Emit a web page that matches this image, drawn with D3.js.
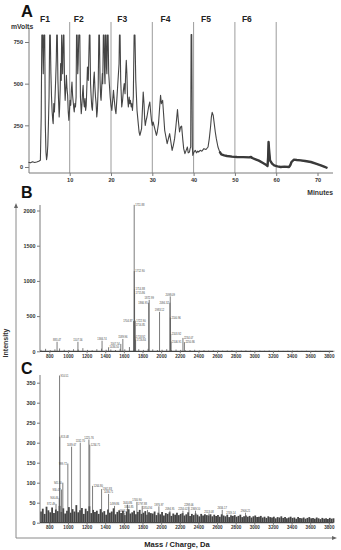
<!DOCTYPE html>
<html>
<head>
<meta charset="utf-8">
<script src="https://cdn.jsdelivr.net/npm/d3@7"></script>
<style>
  body { margin: 0; background: #fff; }
  svg { display: block; font-family: "Liberation Sans", Arial, sans-serif; }
</style>
</head>
<body>
<svg id="chart" width="341" height="550"></svg>
<script>
// ---- panel A : chromatogram (minutes, mVolts) ----
const chromTime = [0, 0.5, 1, 1.5, 2, 2.5, 2.9, 3.1, 3.25, 3.45,
  3.6, 3.75, 3.95, 4.1, 4.25, 4.4, 4.55, 4.7, 4.85, 5.0,
  5.15, 5.3, 5.45, 5.6, 5.75, 5.9, 6.0, 6.15, 6.3, 6.45,
  6.6, 6.75, 6.85, 7.0, 7.15, 7.3, 7.45, 7.55, 7.7, 7.8,
  7.95, 8.05, 8.2, 8.3, 8.45, 8.6, 8.75, 8.9, 9.05, 9.2,
  9.35, 9.5, 9.65, 9.8, 9.95, 10.1, 10.25, 10.4, 10.55, 10.7,
  10.85, 11.0, 11.1, 11.25, 11.4, 11.55, 11.65, 11.8, 11.95, 12.05,
  12.2, 12.45, 12.6, 12.8, 12.95, 13.1, 13.25, 13.4, 13.55, 13.7,
  13.85, 14.0, 14.15, 14.3, 14.5, 14.75, 14.9, 15.05, 15.2, 15.35,
  15.5, 15.65, 15.8, 15.95, 16.1, 16.25, 16.4, 16.55, 16.7, 16.9,
  17.05, 17.2, 17.35, 17.5, 17.6, 17.75, 17.9, 18.0, 18.15, 18.3,
  18.45, 18.55, 18.65, 18.8, 18.9, 19.0, 19.15, 19.3, 19.45, 19.6,
  19.8, 20.0, 20.2, 20.4, 20.6, 20.8, 21.0, 21.2, 21.4, 21.6,
  21.8, 21.95, 22.05, 22.2, 22.35, 22.6, 22.8, 23.0, 23.2, 23.4,
  23.55, 23.7, 23.85, 24.0, 24.2, 24.4, 24.55, 24.7, 24.9, 25.05,
  25.2, 25.4, 25.6, 25.8, 26.0, 26.3, 26.6, 26.8, 27.0, 27.2,
  27.4, 27.6, 27.8, 28.0, 28.15, 28.3, 28.5, 28.7, 28.9, 29.1,
  29.4, 29.6, 29.8, 30.0, 30.2, 30.5, 30.7, 31.0, 31.2, 31.5,
  31.7, 32.0, 32.2, 32.5, 32.7, 33.0, 33.3, 33.6, 33.9, 34.2,
  34.5, 34.8, 35.1, 35.4, 35.7, 36.1, 36.3, 36.6, 36.85, 37.1,
  37.4, 37.6, 37.9, 38.2, 38.5, 38.7, 39.0, 39.15, 39.3, 39.4,
  39.55, 39.7, 39.8, 40.1, 40.4, 40.7, 41.0, 41.2, 41.6, 42.0,
  42.5, 43.0, 43.5, 43.8, 44.1, 44.3, 44.5, 44.75, 45.0, 45.25,
  45.5, 45.9, 46.3, 46.7, 47.4, 48.1, 49.3, 50.5, 52.0, 53.4,
  53.9, 54.2, 55.0, 55.8, 56.8, 57.5, 57.9, 58.05, 58.15, 58.25,
  58.5, 59.0, 59.5, 60.3, 61.1, 62.0, 63.1, 63.4, 63.7, 64.3,
  65.0, 65.9, 67.0, 68.4, 69.6, 70.8, 71.6, 72.4];
const chromMv = [28, 25, 31, 27, 30, 34, 40, 300, 792, 792,
  560, 792, 792, 250, 90, 44, 70, 130, 260, 420,
  792, 792, 560, 420, 330, 280, 260, 380, 330, 420,
  520, 640, 792, 792, 520, 400, 300, 350, 470, 620,
  520, 792, 660, 560, 792, 792, 500, 400, 470, 550,
  470, 430, 330, 280, 340, 400, 370, 460, 510, 430,
  390, 350, 330, 380, 360, 420, 792, 792, 560, 620,
  792, 792, 420, 320, 370, 440, 490, 390, 360, 410,
  340, 370, 480, 600, 520, 792, 792, 500, 420, 360,
  340, 420, 520, 570, 480, 420, 380, 300, 340, 480,
  792, 792, 520, 420, 400, 480, 560, 500, 792, 792,
  560, 500, 792, 792, 600, 560, 792, 792, 560, 500,
  420, 370, 340, 400, 460, 400, 350, 320, 400, 480,
  560, 620, 792, 792, 520, 360, 400, 460, 500, 440,
  560, 640, 560, 420, 360, 420, 380, 400, 360, 380,
  340, 420, 792, 792, 520, 340, 260, 210, 190, 210,
  230, 340, 450, 380, 290, 250, 280, 300, 330, 360,
  390, 330, 280, 250, 270, 240, 220, 190, 210, 260,
  330, 430, 380, 400, 330, 220, 180, 140, 170, 200,
  150, 100, 130, 170, 240, 345, 280, 210, 240, 245,
  160, 110, 80, 100, 120, 85, 90, 110, 120, 795,
  795, 120, 70, 90, 100, 85, 95, 90, 100, 95,
  110, 105, 120, 170, 240, 300, 328, 310, 260, 210,
  170, 120, 92, 76, 70, 66, 62, 60, 59, 58,
  60, 54, 46, 38, 24, 14, 6, 60, 150, 110,
  40, 20, 10, 4, 0, 2, 0, 10, 30, 44,
  42, 40, 36, 30, 20, 10, 2, -6];
const fractionCuts = [10, 20, 30, 40, 50, 60];
const fractionNames = ["F1", "F2", "F3", "F4", "F5", "F6"];
const fractionLabelAt = [4, 12.2, 22.7, 33.2, 43, 52.9];
const minuteTicks = [10, 20, 30, 40, 50, 60, 70];
const mvTicks = [0, 250, 500, 750];

// ---- panels B and C : mass spectra ----
const massTicks = [800, 1000, 1200, 1400, 1600, 1800, 2000, 2200, 2400, 2600, 2800, 3000, 3200, 3400, 3600, 3800];
const intTicksB = [0, 500, 1000, 1500, 2000];
const intTicksC = [0, 50, 100, 150, 200, 250, 300, 350];

const peakMassB = [883, 1107, 1366, 1436, 1567, 1589, 1711, 1712, 1714, 1715, 1704, 1722, 1716, 1718, 1726,
  1872, 1866, 1983, 2098, 2094, 2100, 2103, 2106, 2234, 2250];
const peakIntB = [135, 135, 150, 57, 105, 175, 2080, 1140, 880, 830, 430, 435, 370, 210, 165,
  730, 690, 560, 780, 690, 480, 250, 140, 190, 130];
const peakLabelB = ["883.47", "1107.56", "1366.74", "1436.50", "1567.54", "1589.96", "1711.88", "1712.90", "1714.88",
  "1715.86", "1704.87", "1722.90", "1716.85", "1718.92", "1726.84", "1872.99", "1866.95", "1983.12", "2098.09",
  "2094.32", "2100.96", "2103.92", "2106.91", "2234.07", "2250.86"];
const peakSideB = ["c", "c", "c", "r", "l", "c", "r", "r", "r", "r", "l", "r", "r", "r", "r",
  "c", "l", "c", "c", "l", "r", "r", "r", "r", "r"];

const peakMassC = [910, 913, 945, 930, 906, 872, 999, 1039, 1132, 1225, 1234, 1264, 1361, 1436, 1500,
  1604, 1640, 1654, 1740, 1797, 1854, 1976, 2094, 2234, 2298, 2369, 2513, 2656, 2749, 2906];
const peakIntC = [368, 215, 100, 83, 62, 47, 148, 190, 200, 208, 195, 92, 84, 72, 42,
  25, 45, 34, 52, 42, 32, 41, 30, 30, 40, 30, 23, 32, 20, 25];
const peakLabelC = ["910.51", "913.48", "945.50", "930.47", "906.46", "872.49", "999.72", "1039.67", "1132.70",
  "1225.76", "1234.71", "1264.80", "1361.83", "1436.71", "1499.86", "1604.79", "1640.86", "1654.85", "1740.90",
  "1797.88", "1854.94", "1976.97", "2094.95", "2234.02", "2298.06", "2369.10", "2513.08", "2656.17", "2749.14", "2906.21"];
const peakSideC = ["r", "r", "l", "l", "l", "l", "l", "c", "c", "c", "r", "r", "r", "c", "c",
  "c", "c", "c", "c", "c", "c", "c", "c", "c", "c", "c", "c", "c", "c", "c"];

// baseline noise, one value every step Da from start
const noiseBStart = 710, noiseBStep = 50;
const noiseB = [20, 35, 15, 28, 40, 22, 18, 30, 25, 45, 20, 15, 30, 38, 22, 26, 18, 35, 28, 60, 24, 30, 20, 35, 27, 18,
  22, 30, 16, 25, 20, 14, 18, 22, 12, 16, 10, 14, 12, 9, 11, 13, 8, 10, 12, 9, 7, 10, 8, 11, 7, 9, 6, 8, 10, 7, 6, 8,
  5, 7, 6, 5, 7, 6];
const noiseCStart = 710, noiseCStep = 20;
const noiseC = [28, 35, 22, 40, 31, 26, 38, 24, 33, 29, 42, 27, 36, 23, 30, 39, 25, 34, 28, 44, 26, 31, 37, 22, 35, 29, 41, 24, 32, 27,
  30, 22, 34, 26, 29, 20, 33, 25, 28, 36, 21, 27, 31, 24, 30, 19, 28, 33, 23, 26, 30, 21, 27, 32, 22, 25, 29, 20, 26, 24,
  23, 28, 19, 25, 21, 27, 18, 24, 22, 26, 17, 23, 20, 25, 19, 22, 24, 18, 21, 26, 17, 22, 19, 23, 20, 16, 22, 18, 21, 19,
  18, 21, 16, 20, 17, 19, 15, 21, 18, 16, 20, 14, 18, 17, 19, 15, 17, 20, 14, 16, 18, 15, 17, 13, 16, 18, 14, 15, 17, 13,
  15, 12, 16, 14, 13, 15, 11, 14, 13, 16, 12, 14, 11, 13, 15, 12, 13, 10, 14, 12, 11, 13, 10, 12, 14, 11, 12, 10, 13, 11,
  9, 12, 10, 11, 9, 12, 10, 11];

const svg = d3.select("#chart");
const axisCol = "#7a7a7a";
const textCol = "#333";
const fmt = d3.format("d");

let styleAxis = (g, size) => {
  g.select(".domain").remove();
  g.selectAll(".tick line").attr("stroke", axisCol);
  g.selectAll(".tick text")
    .attr("fill", textCol)
    .attr("font-weight", "bold")
    .attr("font-size", size)
    .attr("font-family", "Liberation Sans, Arial, sans-serif");
};

// ================= panel A =================
const xA = d3.scaleLinear().domain([0, 70]).range([28.4, 317.5]);
const yA = d3.scaleLinear().domain([0, 750]).range([167, 42]);
const gA = svg.append("g");

gA.selectAll("line.cut")
  .data(fractionCuts)
  .join("line")
  .attr("class", "cut")
  .attr("x1", (d) => xA(d))
  .attr("x2", (d) => xA(d))
  .attr("y1", 22)
  .attr("y2", yA(-36))
  .attr("stroke", "#9c9c9c")
  .attr("stroke-width", 1);

gA.append("line")
  .attr("x1", 29).attr("x2", 29)
  .attr("y1", yA(836)).attr("y2", yA(-36))
  .attr("stroke", axisCol);
gA.append("line")
  .attr("x1", 29).attr("x2", 333)
  .attr("y1", yA(-36)).attr("y2", yA(-36))
  .attr("stroke", axisCol);

gA.append("g")
  .attr("transform", "translate(29,0)")
  .call(d3.axisLeft(yA).tickValues(mvTicks).tickSize(4).tickPadding(2).tickFormat(fmt))
  .call((g) => styleAxis(g, 5.6));

gA.append("g")
  .attr("transform", `translate(0,${yA(-36)})`)
  .call(d3.axisBottom(xA).tickValues(minuteTicks).tickSize(3).tickPadding(2).tickFormat(fmt))
  .call((g) => styleAxis(g, 5.6));

let chromLine = d3.line()
  .x((i) => xA(chromTime[i]))
  .y((i) => yA(chromMv[i]));

gA.append("path")
  .attr("d", chromLine(d3.range(chromTime.length)))
  .attr("fill", "none")
  .attr("stroke", "#454545")
  .attr("stroke-width", 1.1)
  .attr("stroke-linejoin", "round");

// the late, flat part of the run is a thick noisy trace
gA.append("path")
  .attr("d", chromLine(d3.range(chromTime.length).filter((i) => chromTime[i] >= 46.3)))
  .attr("fill", "none")
  .attr("stroke", "#3a3a3a")
  .attr("stroke-width", 2.4)
  .attr("stroke-linejoin", "round");

gA.selectAll("text.frac")
  .data(fractionNames)
  .join("text")
  .attr("class", "frac")
  .attr("x", (d, i) => xA(fractionLabelAt[i]))
  .attr("y", 21.5)
  .attr("text-anchor", "middle")
  .attr("font-size", 8.5)
  .attr("font-weight", "bold")
  .attr("fill", "#222")
  .text((d) => d);

gA.append("text").attr("x", 21).attr("y", 16.5)
  .attr("font-size", 16.5).attr("font-weight", "bold").attr("fill", "#111").text("A");
gA.append("text").attr("x", 11).attr("y", 28.5)
  .attr("font-size", 6.8).attr("font-weight", "bold").attr("fill", textCol).text("mVolts");
gA.append("text").attr("x", 333).attr("y", 195).attr("text-anchor", "end")
  .attr("font-size", 6.8).attr("font-weight", "bold").attr("fill", textCol).text("Minutes");

// ================= panels B and C =================
const xM = d3.scaleLinear().domain([700, 3850]).range([40, 333.5]);

let drawSpectrum = (cfg) => {
  const g = svg.append("g");
  const y = cfg.y;

  // noise floor
  g.selectAll("line.noise")
    .data(cfg.noise)
    .join("line")
    .attr("class", "noise")
    .attr("x1", (d, i) => xM(cfg.noiseStart + i * cfg.noiseStep))
    .attr("x2", (d, i) => xM(cfg.noiseStart + i * cfg.noiseStep))
    .attr("y1", y(0))
    .attr("y2", (d) => y(d))
    .attr("stroke", "#444")
    .attr("stroke-width", cfg.noiseWidth);

  // peaks
  g.selectAll("line.peak")
    .data(cfg.mass)
    .join("line")
    .attr("class", "peak")
    .attr("x1", (d) => xM(d))
    .attr("x2", (d) => xM(d))
    .attr("y1", y(0))
    .attr("y2", (d, i) => y(cfg.int[i]))
    .attr("stroke", "#5a5a5a")
    .attr("stroke-width", 0.8);

  g.selectAll("text.plabel")
    .data(cfg.labels)
    .join("text")
    .attr("class", "plabel")
    .attr("x", (d, i) => {
      let side = cfg.side[i];
      let px = xM(cfg.mass[i]);
      return side === "r" ? px + 1 : side === "l" ? px - 1 : px;
    })
    .attr("y", (d, i) => cfg.side[i] === "c" ? y(cfg.int[i]) - 0.8 : y(cfg.int[i]) + 1.1)
    .attr("text-anchor", (d, i) => cfg.side[i] === "r" ? "start" : cfg.side[i] === "l" ? "end" : "middle")
    .attr("font-size", 2.6)
    .attr("fill", "#444")
    .text((d) => d);

  // axes
  g.append("line")
    .attr("x1", 40).attr("x2", 40)
    .attr("y1", cfg.top).attr("y2", y(0))
    .attr("stroke", axisCol);
  g.append("line")
    .attr("x1", 40).attr("x2", 333.5)
    .attr("y1", y(0)).attr("y2", y(0))
    .attr("stroke", "#444")
    .attr("stroke-width", 1.2);

  g.append("g")
    .attr("transform", "translate(40,0)")
    .call(d3.axisLeft(y).tickValues(cfg.ticks).tickSize(3).tickPadding(1.5).tickFormat(fmt))
    .call((a) => styleAxis(a, 5.4));

  g.append("g")
    .attr("transform", `translate(0,${y(0)})`)
    .call(d3.axisBottom(xM).tickValues(massTicks).tickSize(2).tickPadding(1).tickFormat(fmt))
    .call((a) => styleAxis(a, 4.6));

  g.append("text").attr("x", 21).attr("y", cfg.letterY)
    .attr("font-size", 16).attr("font-weight", "bold").attr("fill", "#111").text(cfg.letter);
};

drawSpectrum({
  y: d3.scaleLinear().domain([0, 2000]).range([351.3, 210.5]),
  top: 205, ticks: intTicksB, letter: "B", letterY: 198,
  mass: peakMassB, int: peakIntB, labels: peakLabelB, side: peakSideB,
  noise: noiseB, noiseStart: noiseBStart, noiseStep: noiseBStep, noiseWidth: 0.7
});

drawSpectrum({
  y: d3.scaleLinear().domain([0, 350]).range([522.7, 382.7]),
  top: 375, ticks: intTicksC, letter: "C", letterY: 374,
  mass: peakMassC, int: peakIntC, labels: peakLabelC, side: peakSideC,
  noise: noiseC, noiseStart: noiseCStart, noiseStep: noiseCStep, noiseWidth: 1.8
});

// shared intensity / mass axes with arrows
const outer = svg.append("g");
outer.append("line").attr("x1", 16).attr("x2", 16).attr("y1", 207).attr("y2", 538)
  .attr("stroke", "#8a8a8a").attr("stroke-width", 1);
outer.append("line").attr("x1", 16).attr("x2", 333).attr("y1", 538).attr("y2", 538)
  .attr("stroke", "#8a8a8a").attr("stroke-width", 1);
outer.append("path").attr("d", "M16,203 L14,208 L18,208 Z").attr("fill", "#666");
outer.append("path").attr("d", "M337,538 L332,536 L332,540 Z").attr("fill", "#666");
outer.append("text")
  .attr("transform", "translate(8,343) rotate(-90)")
  .attr("text-anchor", "middle")
  .attr("font-size", 7)
  .attr("font-weight", "bold")
  .attr("fill", textCol)
  .text("Intensity");
outer.append("text")
  .attr("x", 177).attr("y", 547)
  .attr("text-anchor", "middle")
  .attr("font-size", 7.6)
  .attr("font-weight", "bold")
  .attr("fill", "#222")
  .text("Mass / Charge, Da");
</script>
</body>
</html>
